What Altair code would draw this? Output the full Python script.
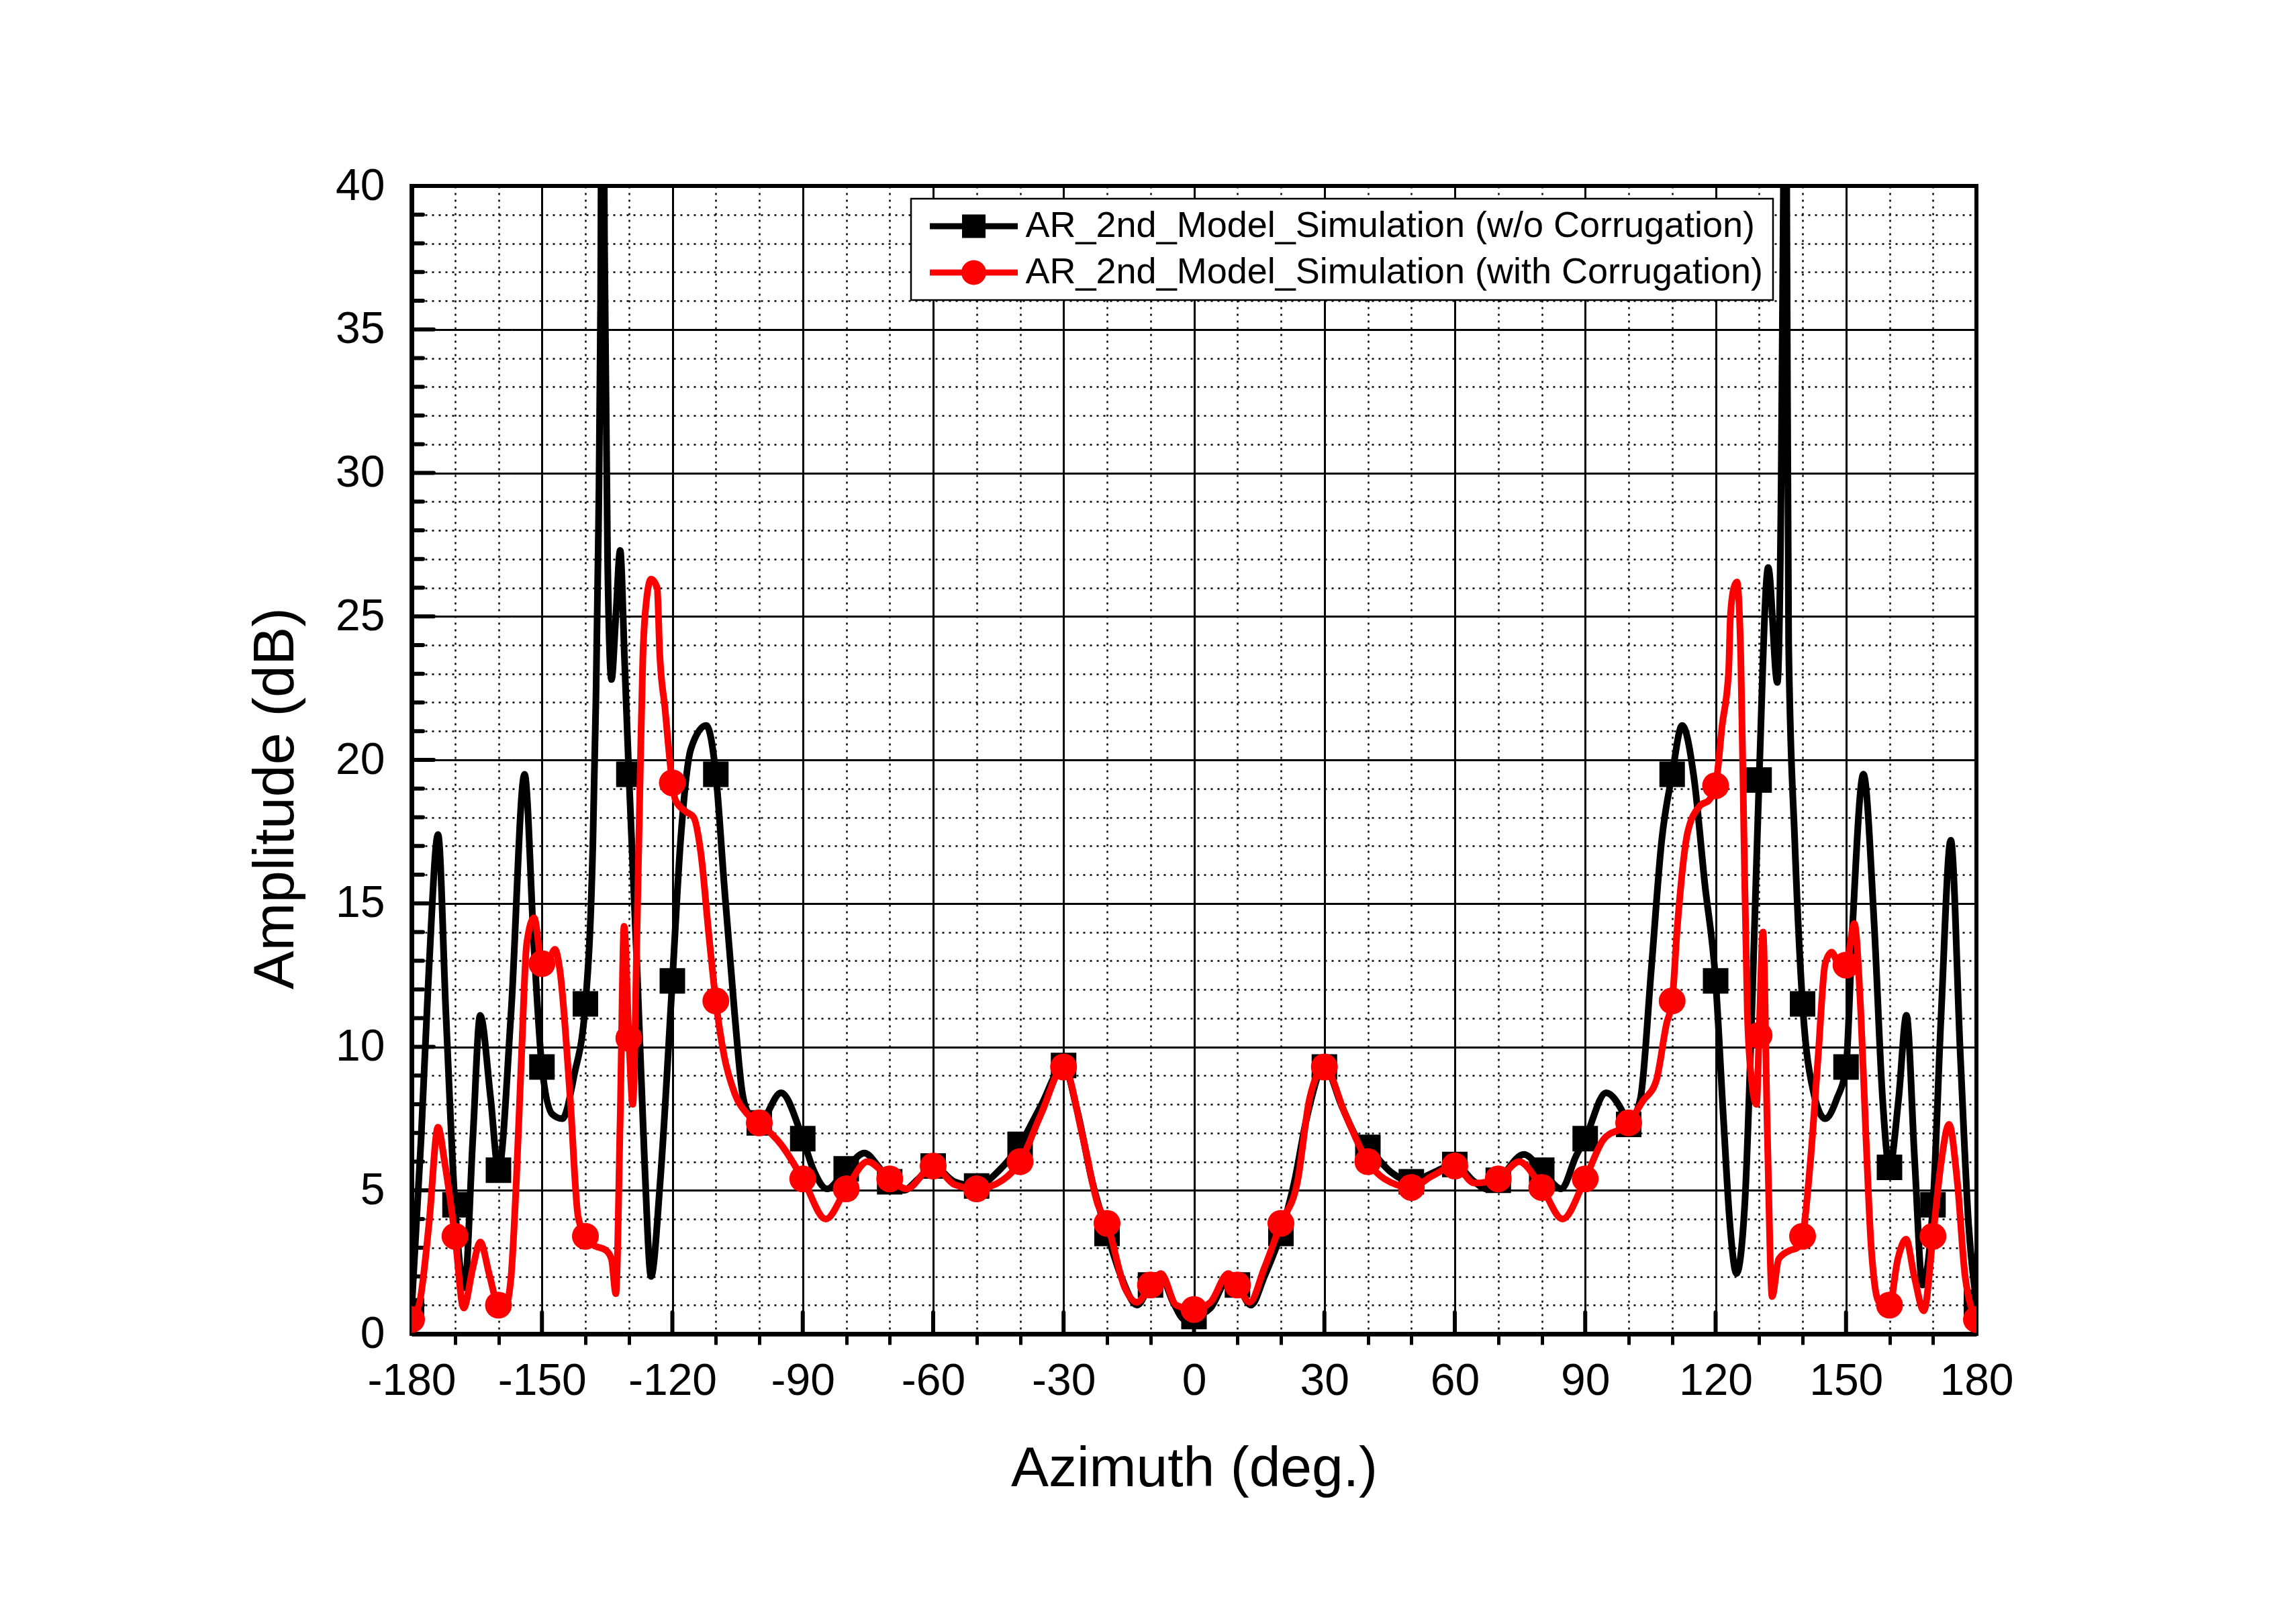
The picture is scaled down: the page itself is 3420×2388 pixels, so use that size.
import altair as alt
import pandas as pd

# ---------------- data ----------------
series_names = [
    "AR_2nd_Model_Simulation (w/o Corrugation)",
    "AR_2nd_Model_Simulation (with Corrugation)",
]
series_colors = ["#000000", "#ff0000"]

black_az = [-180, -177.8, -176.0, -173.9, -172.1, -170, -167.8, -165.9, -164.2, -161.8,
            -160, -157.1, -154.0, -151.8, -150, -147.6, -145.3, -142.6, -140, -138.3,
            -137.6, -137.0, -136.5, -136.1, -135.6, -134.9, -134.0, -133.0, -132.0, -131.0,
            -130, -128.1, -126.4, -124.9, -122.8, -120, -118.1, -115.7, -112.2, -110,
            -108.1, -105.7, -104.0, -102.4, -100, -95.0, -90, -87.5, -84.4, -80,
            -75.8, -72.7, -70, -66.8, -63.4, -60, -55.1, -50, -44.8, -40,
            -35.2, -30, -26.9, -23.4, -20, -16.5, -13.1, -10, -7.6, -4.8,
            -2.1, 0, 3.8, 7.9, 10, 13.1, 16.2, 20, 23.1, 25.9,
            30, 34.1, 37.6, 40, 45.2, 50, 54.8, 60, 64.5, 67.2,
            70, 75.9, 80, 84.5, 87.9, 90, 94.8, 98.9, 100, 102.7,
            105.2, 107.6, 110, 112.3, 115.0, 117.5, 120, 121.8, 123.3, 124.8,
            126.7, 128.5, 130, 132.1, 134.2, 135.1, 135.6, 136.0, 136.4, 136.8,
            138.2, 140, 142.4, 145.2, 147.9, 150, 151.5, 154.0, 156.5, 158.4,
            160, 162.1, 163.9, 165.8, 167.6, 170, 171.9, 174.1, 176.3, 178.2,
            180]
black_db = [0.8, 6.8, 12.7, 17.4, 11.2, 4.5, 1.6, 6.8, 11.1, 8.2,
            5.7, 11.2, 19.5, 13.4, 9.3, 7.65, 7.5, 9.0, 11.5, 17.0,
            22.0, 28.0, 36.0, 52.0, 38.0, 27.0, 22.8, 25.0, 27.3, 23.5,
            19.5, 12.7, 6.0, 2.0, 5.3, 12.3, 17.2, 20.4, 21.2, 19.5,
            15.7, 11.2, 8.5, 7.65, 7.35, 8.4, 6.8, 5.7, 5.05, 5.75,
            6.3, 5.85, 5.3, 5.0, 5.4, 5.85, 5.3, 5.15, 5.7, 6.6,
            7.95, 9.35, 7.8, 5.3, 3.5, 1.9, 1.0, 1.7, 2.0, 1.1,
            0.5, 0.6, 0.9, 1.9, 1.7, 1.0, 2.0, 3.5, 5.3, 7.5,
            9.3, 7.9, 6.8, 6.5, 5.65, 5.3, 5.6, 5.9, 5.3, 5.05,
            5.35, 6.25, 5.7, 5.05, 6.2, 6.8, 8.4, 7.65, 7.3, 8.2,
            12.7, 17.2, 19.5, 21.2, 19.4, 15.7, 12.3, 7.5, 3.8, 2.1,
            4.5, 12.0, 19.3, 26.7, 22.7, 30.0, 40.0, 52.0, 38.0, 24.0,
            17.2, 11.5, 8.5, 7.5, 8.2, 9.3, 14.2, 19.5, 14.2, 8.2,
            5.8, 8.2, 11.1, 6.0, 1.7, 4.5, 11.2, 17.2, 9.7, 3.8,
            1.1]

red_az = [-180, -178.3, -176.0, -173.9, -172.4, -170, -168.0, -165.9, -164.2, -162.0,
          -160, -158.3, -157.1, -155.9, -154.7, -153.5, -151.8, -150, -148.5, -147.0,
          -145.9, -143.5, -141.7, -140, -138.2, -135.2, -134.0, -133.0, -132.0, -131.1,
          -130, -129.1, -128.2, -127.4, -126.8, -126.0, -124.9, -123.5, -122.9, -121.7,
          -120, -119.3, -116.9, -115.1, -113.4, -111.6, -110, -108.1, -105.7, -102.7,
          -100, -95.0, -90, -84.7, -80, -75.1, -70, -66.1, -60, -55.1,
          -50, -44.1, -40, -35.2, -30, -25.5, -22.1, -20, -15.9, -13.1,
          -10, -7.6, -4.1, 0, 3.8, 7.9, 10, 12.8, 16.2, 20,
          23.8, 26.6, 30, 34.8, 40, 43.8, 50, 54.8, 60, 64.5,
          70, 74.8, 80, 84.8, 90, 94.1, 100, 103.2, 106.3, 108.7,
          110, 111.2, 113.6, 116.4, 118.5, 120, 121.5, 123.0, 123.4, 124.2,
          124.9, 125.8, 126.5, 127.3, 128.3, 129.4, 130, 130.9, 131.9, 133.0,
          134.5, 137.0, 138.8, 140, 141.8, 143.6, 145.2, 146.7, 148.5, 150,
          151.9, 153.4, 154.6, 155.8, 157.6, 160, 161.9, 163.8, 165.7, 167.9,
          170, 171.9, 173.7, 175.6, 177.4, 180]
red_db = [0.6, 1.0, 3.8, 7.2, 6.0, 3.4, 0.9, 2.3, 3.2, 2.0,
          1.0, 1.0, 2.0, 5.3, 9.7, 13.6, 14.5, 12.9, 13.0, 13.4,
          12.7, 8.2, 4.1, 3.4, 3.1, 2.9, 2.6, 1.4, 7.5, 14.2,
          10.3, 8.0, 13.5, 19.5, 23.5, 25.5, 26.3, 26.0, 23.7, 21.8,
          19.2, 18.6, 18.2, 18.0, 16.7, 13.9, 11.6, 9.7, 8.4, 7.65,
          7.35, 6.6, 5.4, 4.0, 5.05, 6.0, 5.4, 5.05, 5.85, 5.2,
          5.05, 5.35, 6.0, 7.65, 9.3, 6.8, 4.5, 3.85, 1.6, 1.1,
          1.7, 2.1, 1.0, 0.85, 1.1, 2.1, 1.7, 1.1, 2.3, 3.85,
          5.3, 8.2, 9.3, 7.65, 6.0, 5.4, 5.1, 5.5, 5.85, 5.25,
          5.4, 6.0, 5.1, 4.0, 5.4, 6.75, 7.35, 8.1, 8.8, 10.8,
          11.6, 14.2, 17.5, 18.4, 18.6, 19.1, 21.2, 23.1, 25.0, 26.0,
          26.2, 23.5, 17.5, 11.2, 8.8, 8.0, 10.4, 14.0, 7.0, 1.3,
          2.6, 2.9, 3.0, 3.4, 6.0, 9.7, 12.9, 13.3, 12.85, 12.85,
          14.3, 11.2, 6.8, 3.0, 1.1, 1.0, 2.6, 3.3, 2.0, 0.8,
          3.4, 6.0, 7.3, 5.3, 2.0, 0.5]

marker_az = [-180, -170, -160, -150, -140, -130, -120, -110, -100, -90,
             -80, -70, -60, -50, -40, -30, -20, -10, 0, 10,
             20, 30, 40, 50, 60, 70, 80, 90, 100, 110,
             120, 130, 140, 150, 160, 170, 180]
black_marker_db = [0.8, 4.5, 5.7, 9.3, 11.5, 19.5, 12.3, 19.5, 7.35, 6.8,
                   5.75, 5.3, 5.85, 5.15, 6.6, 9.35, 3.5, 1.7, 0.6, 1.7,
                   3.5, 9.3, 6.5, 5.3, 5.9, 5.35, 5.7, 6.8, 7.3, 19.5,
                   12.3, 19.3, 11.5, 9.3, 5.8, 4.5, 1.1]
red_marker_db = [0.5, 3.4, 1.0, 12.9, 3.4, 10.3, 19.2, 11.6, 7.35, 5.4,
                 5.05, 5.4, 5.85, 5.05, 6.0, 9.3, 3.85, 1.7, 0.85, 1.7,
                 3.85, 9.3, 6.0, 5.1, 5.85, 5.4, 5.1, 5.4, 7.35, 11.6,
                 19.1, 10.4, 3.4, 12.85, 1.0, 3.4, 0.5]

x_tick_values = list(range(-180, 181, 10))
y_tick_values = list(range(0, 41))
y_minor_ticks = [v for v in y_tick_values if v % 5 != 0]
y_major_ticks = [v for v in y_tick_values if v % 5 == 0]
x_major_ticks = [v for v in x_tick_values if v % 30 == 0]

# ---------------- styling ----------------
FONT = "Liberation Sans"
W, H = 2331, 1710
LINE_W = 10

black_df = pd.DataFrame({"az": black_az, "db": black_db})
red_df = pd.DataFrame({"az": red_az, "db": red_db})
black_mk_df = pd.DataFrame({"az": marker_az, "db": black_marker_db})
red_mk_df = pd.DataFrame({"az": marker_az, "db": red_marker_db})

xscale = alt.Scale(domain=[-180, 180], nice=False, zero=False)
yscale = alt.Scale(domain=[0, 40], nice=False, zero=False)

x_axis = alt.Axis(
    values=x_tick_values,
    labelExpr="datum.value % 30 === 0 ? '' + datum.value : ''",
    labelFont=FONT, labelFontSize=66, labelColor="black",
    labelPadding=22, labelOverlap=False, labelFlush=False, labelBound=False,
    ticks=True, tickSize=16, tickWidth=5,
    tickColor={"condition": {"test": "datum.value % 30 === 0", "value": "transparent"}, "value": "black"},
    domain=True, domainColor="black", domainWidth=7,
    grid=True, gridColor="black",
    gridWidth={"condition": {"test": "datum.value % 30 === 0", "value": 3}, "value": 2.5},
    gridDash={"condition": {"test": "datum.value % 30 === 0", "value": [1, 0]}, "value": [3, 7]},
    title="Azimuth (deg.)", titleFont=FONT, titleFontSize=84, titleFontWeight="normal",
    titleColor="black", titleX=W / 2, titleY=201, titleAlign="center", titleBaseline="middle",
)
y_axis = alt.Axis(
    values=y_tick_values,
    labelExpr="datum.value % 5 === 0 ? '' + datum.value : ''",
    labelFont=FONT, labelFontSize=66, labelColor="black",
    labelPadding=40, labelOverlap=False, labelFlush=False, labelBound=False,
    ticks=False,
    domain=True, domainColor="black", domainWidth=7,
    grid=True, gridColor="black",
    gridWidth={"condition": {"test": "datum.value % 5 === 0", "value": 3}, "value": 2.5},
    gridDash={"condition": {"test": "datum.value % 5 === 0", "value": [1, 0]}, "value": [3, 7]},
    title="Amplitude (dB)", titleFont=FONT, titleFontSize=86, titleFontWeight="normal",
    titleColor="black", titleX=-203, titleY=912, titleAngle=270,
    titleAlign="center", titleBaseline="middle",
)

X = alt.X("az:Q", scale=xscale, axis=x_axis)
Y = alt.Y("db:Q", scale=yscale, axis=y_axis)

# inside ticks (Origin style)
y_minor_layer = alt.Chart(pd.DataFrame({"v": y_minor_ticks})).mark_rule(
    color="black", strokeWidth=6, strokeCap="round"
).encode(y=alt.Y("v:Q", scale=yscale), x=alt.value(0), x2=alt.value(17))
y_major_layer = alt.Chart(pd.DataFrame({"v": y_major_ticks})).mark_rule(
    color="black", strokeWidth=6, strokeCap="round"
).encode(y=alt.Y("v:Q", scale=yscale), x=alt.value(0), x2=alt.value(33))
x_major_layer = alt.Chart(pd.DataFrame({"v": x_major_ticks})).mark_rule(
    color="black", strokeWidth=6, strokeCap="round"
).encode(x=alt.X("v:Q", scale=xscale), y=alt.value(H), y2=alt.value(H - 32))

black_line = alt.Chart(black_df).mark_line(
    color="#000000", strokeWidth=LINE_W, interpolate="monotone", clip=True, strokeJoin="round"
).encode(x=X, y=Y)
black_pts = alt.Chart(black_mk_df).mark_point(
    shape="square", filled=True, size=1444, color="#000000", opacity=1, clip=True
).encode(x=X, y=Y)
red_line = alt.Chart(red_df).mark_line(
    color="#ff0000", strokeWidth=LINE_W, interpolate="monotone", clip=True, strokeJoin="round"
).encode(x=X, y=Y)
red_pts = alt.Chart(red_mk_df).mark_point(
    shape="circle", filled=True, size=1600, color="#ff0000", opacity=1, clip=True
).encode(x=X, y=Y)

# legend: line + marker symbols as custom paths (unit = 20 px, symbol size 40x40)
path_square = ("M-3.275,-0.225L3.275,-0.225L3.275,0.225L-3.275,0.225Z "
               "M-0.875,-0.875L0.875,-0.875L0.875,0.875L-0.875,0.875Z")
path_circle = ("M-3.275,-0.225L3.275,-0.225L3.275,0.225L-3.275,0.225Z "
               "M0.925,0A0.925,0.925 0 1,1 -0.925,0A0.925,0.925 0 1,1 0.925,0Z")

leg = alt.Legend(
    title=None, orient="none", legendX=744, legendY=19,
    labelFont=FONT, labelFontSize=54, labelColor="black",
    symbolSize=1600, symbolStrokeWidth=0, symbolOffset=52.5, labelOffset=50,
    padding=14, rowPadding=15,
    strokeColor="black", fillColor="white", labelLimit=0,
)
legend_layer = alt.Chart(pd.DataFrame({"series": series_names})).mark_point(
    filled=True, opacity=1
).encode(
    color=alt.Color("series:N", scale=alt.Scale(domain=series_names, range=series_colors), legend=leg),
    shape=alt.Shape("series:N", scale=alt.Scale(domain=series_names, range=[path_square, path_circle]), legend=leg),
).transform_filter("datum.series == 'none'")

chart = alt.layer(
    y_minor_layer, y_major_layer, x_major_layer,
    black_line, black_pts, red_line, red_pts, legend_layer,
).properties(
    width=W, height=H,
    autosize=alt.AutoSizeParams(type="none"),
    padding={"left": 613, "top": 277, "right": 476, "bottom": 401},
    background="white",
).configure_view(
    stroke="black", strokeWidth=6
).configure_legend(
    strokeWidth=2.5
)

chart.save("out.html", embed_options={"renderer": "svg", "actions": False})
